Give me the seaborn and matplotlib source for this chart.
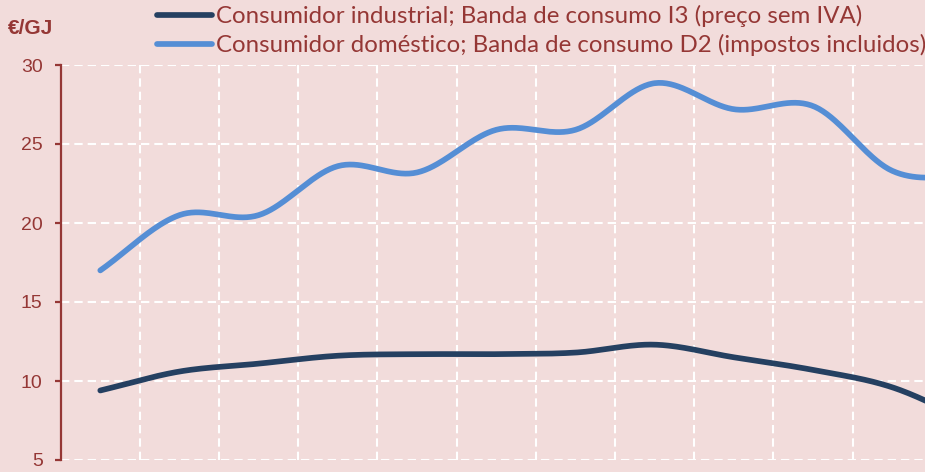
import numpy as np
import pandas as pd
import matplotlib
matplotlib.use("Agg")
import matplotlib.pyplot as plt
import seaborn as sns

# ---------------- data ----------------
series_names = [
    "Consumidor industrial; Banda de consumo I3 (preço sem IVA)",
    "Consumidor doméstico; Banda de consumo D2 (impostos incluidos)",
]
periods = list(range(12))
industrial = [9.4, 10.6, 11.1, 11.6, 11.7, 11.7, 11.8, 12.3, 11.5, 10.7, 9.6, 7.4]
domestico = [17.0, 20.5, 20.5, 23.6, 23.2, 25.9, 25.9, 28.85, 27.2, 27.4, 23.3, 22.9]
y_ticks = [5, 10, 15, 20, 25, 30]
unit_label = "€/GJ"

BG = "#F2DCDB"
RED = "#953735"
DARK = "#254061"
LIGHT = "#558ED5"


def smooth(xv, vals, n=40):
    """Catmull-Rom style smoothing (like Excel 'smoothed line') for drawing."""
    p = np.asarray(vals, float)
    x = np.asarray(xv, float)
    k = len(p)
    m = np.empty(k)
    m[1:-1] = (p[2:] - p[:-2]) / 2
    m[0] = p[1] - p[0]
    m[-1] = p[-1] - p[-2]
    xs, ys = [], []
    for i in range(k - 1):
        t = np.linspace(0, 1, n, endpoint=(i == k - 2))
        h00 = 2 * t**3 - 3 * t**2 + 1
        h10 = t**3 - 2 * t**2 + t
        h01 = -2 * t**3 + 3 * t**2
        h11 = t**3 - t**2
        ys.append(h00 * p[i] + h10 * m[i] + h01 * p[i + 1] + h11 * m[i + 1])
        xs.append(x[i] + t * (x[i + 1] - x[i]))
    return np.concatenate(xs), np.concatenate(ys)


frames = []
for name, vals in zip(series_names, [industrial, domestico]):
    sx, sy = smooth(periods, vals)
    frames.append(pd.DataFrame({"x": sx, "y": sy, "serie": name}))
df = pd.concat(frames, ignore_index=True)

# ---------------- figure ----------------
sns.set_theme(style="white")
plt.rcParams["font.family"] = ["Liberation Sans", "DejaVu Sans"]

W, H = 925, 472
fig = plt.figure(figsize=(W / 100, H / 100), dpi=100, facecolor=BG)
step = 79.2
ax = fig.add_axes([60.7 / W, 12 / H, 12 * step / W, 395 / H])
ax.set_facecolor(BG)

sns.lineplot(
    data=df, x="x", y="y", hue="serie", hue_order=series_names,
    palette=[DARK, LIGHT], linewidth=4.1, sort=False, estimator=None,
    ax=ax, legend=True, solid_capstyle="round",
)

ax.set_xlim(-0.5, 11.5)
ax.set_ylim(5, 30)
ax.set_yticks(y_ticks)
ax.set_xticks([])
ax.set_xticks(np.arange(0.5, 11.5, 1), minor=True)
ax.set_xlabel("")
ax.set_ylabel("")

ax.grid(axis="y", which="major", color="white", linestyle=(0, (4.0, 2.4)), linewidth=1.5)
ax.grid(axis="x", which="minor", color="white", linestyle=(0, (4.0, 2.4)), linewidth=1.5)
ax.set_axisbelow(True)

for s in ["top", "right", "bottom"]:
    ax.spines[s].set_visible(False)
ax.spines["left"].set_color(RED)
ax.spines["left"].set_linewidth(1.6)

ax.tick_params(axis="y", which="major", left=True, length=4.5, width=1.6,
               color=RED, labelcolor=RED, labelsize=14, pad=8.5, direction="out")
ax.tick_params(axis="x", which="both", length=0, labelbottom=False, bottom=False)

fig.text(8 / W, 1 - 28 / H, unit_label, fontsize=15, fontweight="bold",
         color=RED, ha="left", va="center")

handles, labels = ax.get_legend_handles_labels()
for h in handles:
    h.set_linewidth(4.1)
    h.set_solid_capstyle("round")
ax.legend(
    handles, labels, loc="upper left",
    bbox_to_anchor=(157 / W, 1 - 5 / H), bbox_transform=fig.transFigure,
    frameon=False, labelcolor=RED,
    prop={"family": ["Lato", "DejaVu Sans"], "size": 17.3},
    handlelength=2.3, handletextpad=0.15, borderpad=0, borderaxespad=0,
    labelspacing=0.28,
)

fig.savefig("out.png", dpi=100, facecolor=BG)
